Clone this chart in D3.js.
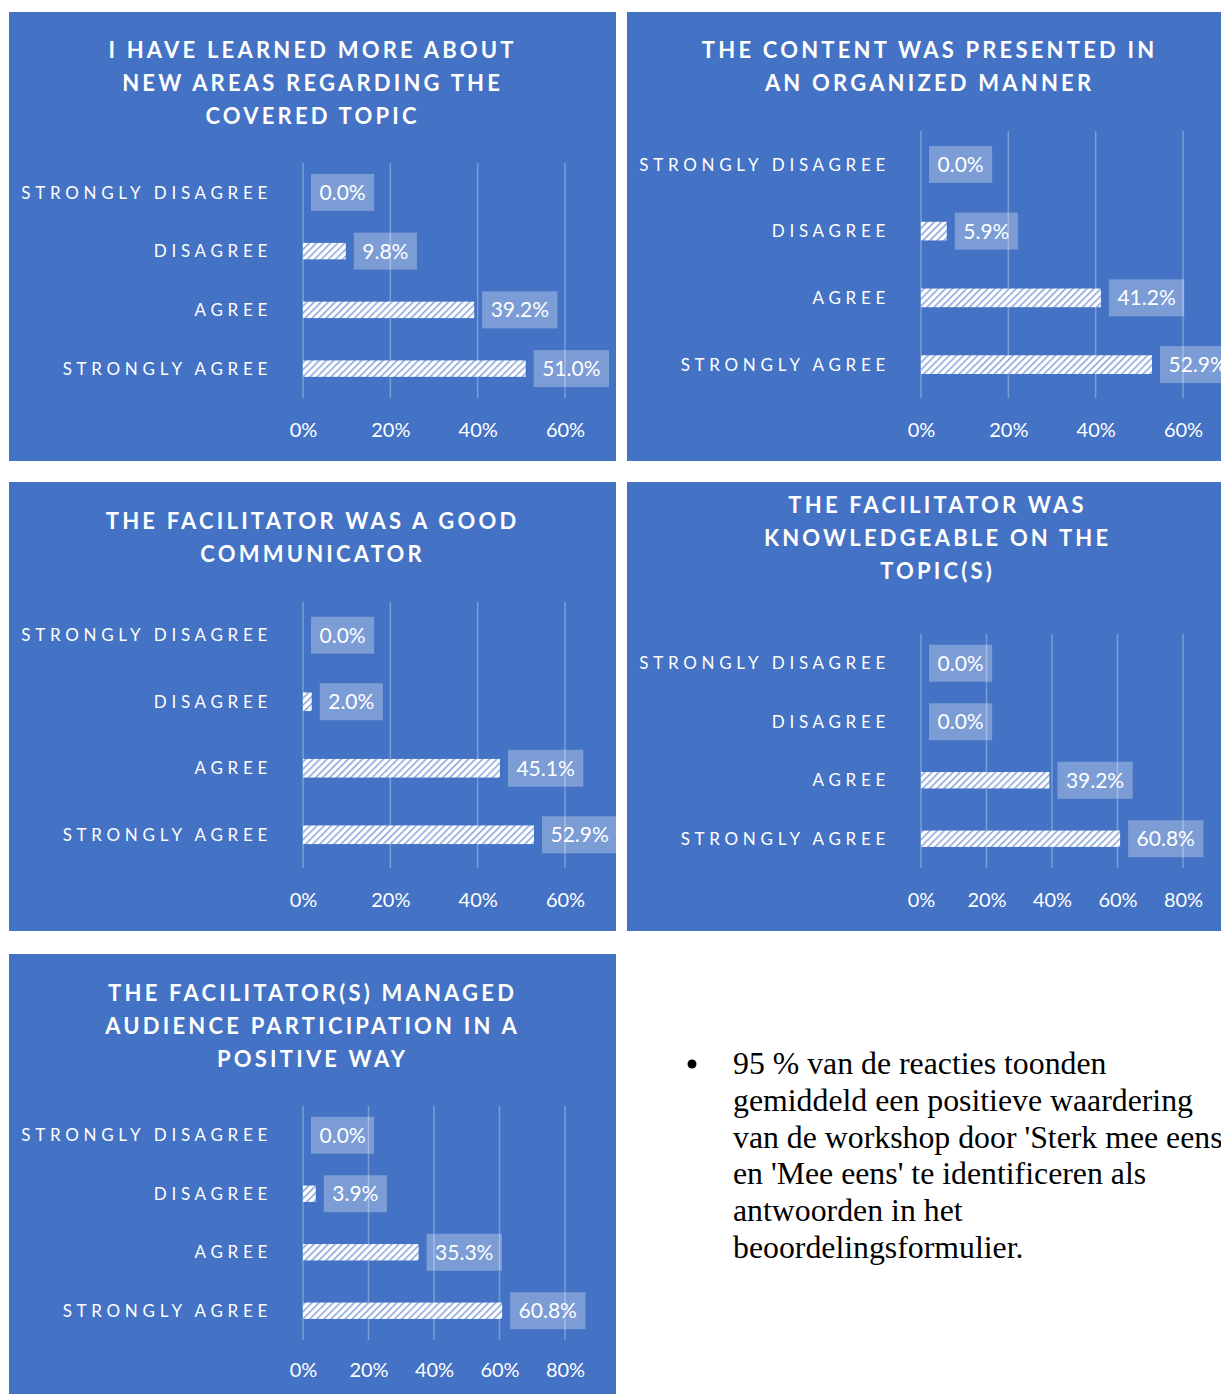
<!DOCTYPE html>
<html>
<head>
<meta charset="utf-8">
<script src="https://cdn.jsdelivr.net/npm/d3@7/dist/d3.min.js"></script>
<style>
  html, body { margin: 0; padding: 0; background: #ffffff; }
  svg { display: block; }
</style>
</head>
<body>
<svg id="chart" width="1221" height="1394"></svg>
<script>
// ---------- DATA ----------
const categories = ["STRONGLY DISAGREE", "DISAGREE", "AGREE", "STRONGLY AGREE"];

const titles = [
  ["I HAVE LEARNED MORE ABOUT", "NEW AREAS REGARDING THE", "COVERED TOPIC"],
  ["THE CONTENT WAS PRESENTED IN", "AN ORGANIZED MANNER"],
  ["THE FACILITATOR WAS A GOOD", "COMMUNICATOR"],
  ["THE FACILITATOR WAS", "KNOWLEDGEABLE ON THE", "TOPIC(S)"],
  ["THE FACILITATOR(S) MANAGED", "AUDIENCE PARTICIPATION IN A", "POSITIVE WAY"]
];

const values1 = [0.0, 9.8, 39.2, 51.0];
const values2 = [0.0, 5.9, 41.2, 52.9];
const values3 = [0.0, 2.0, 45.1, 52.9];
const values4 = [0.0, 0.0, 39.2, 60.8];
const values5 = [0.0, 3.9, 35.3, 60.8];
const seriesValues = [values1, values2, values3, values4, values5];

const ticks60 = [0, 20, 40, 60];
const ticks80 = [0, 20, 40, 60, 80];
const axisTicks = [ticks60, ticks60, ticks60, ticks80, ticks80];

const noteLines = [
  "95 % van de reacties toonden",
  "gemiddeld een positieve waardering",
  "van de workshop door 'Sterk mee eens'",
  "en 'Mee eens' te identificeren als",
  "antwoorden in het",
  "beoordelingsformulier."
];

// ---------- LAYOUT ----------
const panels = [
  {x: 9,   y: 12,  w: 607, h: 449, plotTop: 151, titleY: 38, titleCx: 302, tickY: 418},
  {x: 627, y: 12,  w: 607, h: 449, plotTop: 119, titleY: 38, titleCx: 301, tickY: 418},
  {x: 9,   y: 482, w: 607, h: 449, plotTop: 120, titleY: 39, titleCx: 302, tickY: 418},
  {x: 627, y: 482, w: 607, h: 449, plotTop: 152, titleY: 23, titleCx: 309, tickY: 418},
  {x: 9,   y: 954, w: 607, h: 449, plotTop: 152, titleY: 39, titleCx: 302, tickY: 416}
];
const plotLeft = 294, plotRight = 556, plotBottom = 386;
const BLUE = "#4472C4";
const FONT = "Lato, 'Open Sans', sans-serif";

const svg = d3.select("#chart");

// hatch pattern
const defs = svg.append("defs");
const pat = defs.append("pattern")
  .attr("id", "hatch")
  .attr("patternUnits", "userSpaceOnUse")
  .attr("width", 5).attr("height", 5)
  .attr("patternTransform", "rotate(45)");
pat.append("rect").attr("width", 5).attr("height", 5).attr("fill", "#ffffff");
pat.append("rect").attr("x", 0).attr("y", 0).attr("width", 1.5).attr("height", 5).attr("fill", "#86a1d9");

panels.forEach((p, i) => {
  const g = svg.append("g").attr("transform", `translate(${p.x},${p.y})`);
  g.append("rect").attr("width", p.w).attr("height", p.h).attr("fill", BLUE);

  const ticks = axisTicks[i];
  const x = d3.scaleLinear().domain([0, d3.max(ticks)]).range([plotLeft, plotRight]);
  const y = d3.scaleBand().domain(categories).range([p.plotTop, plotBottom])
    .paddingInner(0.72).paddingOuter(0.36);

  // title
  const tg = g.append("text")
    .attr("text-anchor", "middle")
    .attr("fill", "#ffffff")
    .attr("font-family", FONT)
    .attr("font-weight", "bold")
    .attr("font-size", 22)
    .attr("letter-spacing", "3.2px");
  titles[i].forEach((line, k) => {
    tg.append("tspan")
      .attr("x", p.titleCx + 1.6)
      .attr("y", p.titleY + k * 32.8)
      .attr("dy", "0.36em")
      .text(line);
  });

  // gridlines
  g.selectAll("line.grid").data(ticks).enter().append("line")
    .attr("x1", d => x(d)).attr("x2", d => x(d))
    .attr("y1", p.plotTop).attr("y2", plotBottom)
    .attr("stroke", "rgba(255,255,255,0.3)")
    .attr("stroke-width", 1.5);

  // x axis tick labels
  const xAxis = d3.axisBottom(x).tickValues(ticks).tickFormat(d => d + "%").tickSize(0);
  const ax = g.append("g").attr("transform", `translate(0,${p.tickY})`).call(xAxis);
  ax.select(".domain").remove();
  ax.selectAll("text")
    .attr("y", 0).attr("dy", "0.36em")
    .attr("fill", "#ffffff")
    .attr("font-family", FONT)
    .attr("font-size", 20);

  // category labels
  const yAxis = d3.axisLeft(y).tickSize(0).tickPadding(0);
  const ay = g.append("g").attr("transform", `translate(${263},0)`).call(yAxis);
  ay.select(".domain").remove();
  ay.selectAll("text")
    .attr("x", 0).attr("dy", "0.36em")
    .attr("fill", "#ffffff")
    .attr("font-family", FONT)
    .attr("font-size", 17)
    .attr("letter-spacing", "4.7px");

  const data = categories.map((c, k) => ({c, v: seriesValues[i][k]}));

  // bars
  g.selectAll("rect.bar").data(data).enter().append("rect")
    .attr("class", "bar")
    .attr("x", x(0))
    .attr("y", d => y(d.c))
    .attr("width", d => x(d.v) - x(0))
    .attr("height", y.bandwidth())
    .attr("fill", "url(#hatch)");

  // data labels
  const lab = g.selectAll("g.lab").data(data).enter().append("g").attr("class", "lab");
  const boxH = 37;
  lab.each(function(d) {
    const lg = d3.select(this);
    const cy = y(d.c) + y.bandwidth() / 2;
    const bx = x(d.v) + 8;
    const box = lg.append("rect")
      .attr("x", bx).attr("y", cy - boxH / 2)
      .attr("height", boxH)
      .attr("fill", "rgba(255,255,255,0.3)");
    const t = lg.append("text")
      .attr("x", bx + 8.5).attr("y", cy).attr("dy", "0.36em")
      .attr("fill", "#ffffff")
      .attr("font-family", FONT)
      .attr("font-size", 21)
      .text(d.v.toFixed(1) + "%");
    box.attr("width", t.node().getComputedTextLength() + 17);
  });
});

// note text
const note = svg.append("g");
note.append("circle").attr("cx", 692).attr("cy", 1064).attr("r", 4.5).attr("fill", "#000");
const nt = note.append("text")
  .attr("font-family", "'Liberation Serif', 'Times New Roman', serif")
  .attr("font-size", 31.8)
  .attr("fill", "#000");
noteLines.forEach((line, k) => {
  nt.append("tspan").attr("x", 733).attr("y", 1074 + k * 36.8).text(line);
});
</script>
</body>
</html>
